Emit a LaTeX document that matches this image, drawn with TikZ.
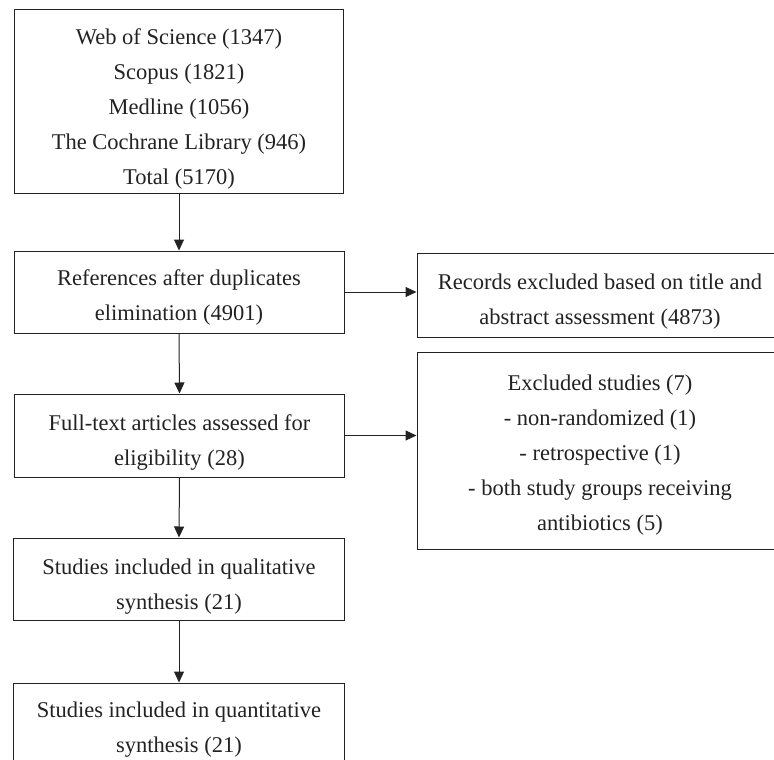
\documentclass[tikz,border=0pt]{standalone}
\usepackage{fontspec}
\setmainfont{Liberation Serif}
\usetikzlibrary{arrows.meta}
\definecolor{ink}{HTML}{222222}
\tikzset{
  flowbox/.style={draw=ink, line width=1pt, inner sep=0pt},
  flowtext/.style={text=ink, align=center, inner sep=0pt,
    font=\fontsize{22.5}{35}\selectfont},
  flowarrow/.style={draw=ink, line width=1pt, -{Triangle[length=11pt,width=10pt]}}
}
\begin{document}
\begin{tikzpicture}[x=1pt,y=-1pt]
\useasboundingbox (0,0) rectangle (774,760);
\node[flowbox, minimum width=329pt, minimum height=183pt,
  label={[flowtext,yshift=-7pt]center:{Web of Science (1347)\\Scopus (1821)\\Medline (1056)\\The Cochrane Library (946)\\Total (5170)}}] (b1) at (179,101.5) {};
\node[flowbox, minimum width=330pt, minimum height=82pt,
  label={[flowtext,yshift=-5pt]center:{References after duplicates\\elimination (4901)}}] (b2) at (179,292) {};
\node[flowbox, minimum width=366pt, minimum height=84pt,
  label={[flowtext,yshift=-6.5pt]center:{Records excluded based on title and\\abstract assessment (4873)}}] (r1) at (600,295.3) {};
\node[flowbox, minimum width=330pt, minimum height=83pt,
  label={[flowtext,yshift=-7pt]center:{Full-text articles assessed for\\eligibility (28)}}] (b3) at (179.5,435.5) {};
\node[flowbox, minimum width=366pt, minimum height=197pt,
  label={[flowtext,yshift=-5pt]center:{Excluded studies (7)\\- non-randomized (1)\\- retrospective (1)\\- both study groups receiving\\antibiotics (5)}}] (r2) at (600,450.5) {};
\node[flowbox, minimum width=331pt, minimum height=82pt,
  label={[flowtext,yshift=-7.5pt]center:{Studies included in qualitative\\synthesis (21)}}] (b4) at (179,579) {};
\node[flowbox, minimum width=331pt, minimum height=84pt,
  label={[flowtext,yshift=-5pt]center:{Studies included in quantitative\\synthesis (21)}}] (b5) at (179,725) {};
\draw[flowarrow] (b1.south) -- (b2.north);
\draw[flowarrow] (b2.south) -- (b3.north);
\draw[flowarrow] (b3.south) -- (b4.north);
\draw[flowarrow] (b4.south) -- (b5.north);
\draw[flowarrow] (b2.east) -- (b2.east -| r1.west);
\draw[flowarrow] (b3.east) -- (b3.east -| r2.west);
\end{tikzpicture}
\end{document}
